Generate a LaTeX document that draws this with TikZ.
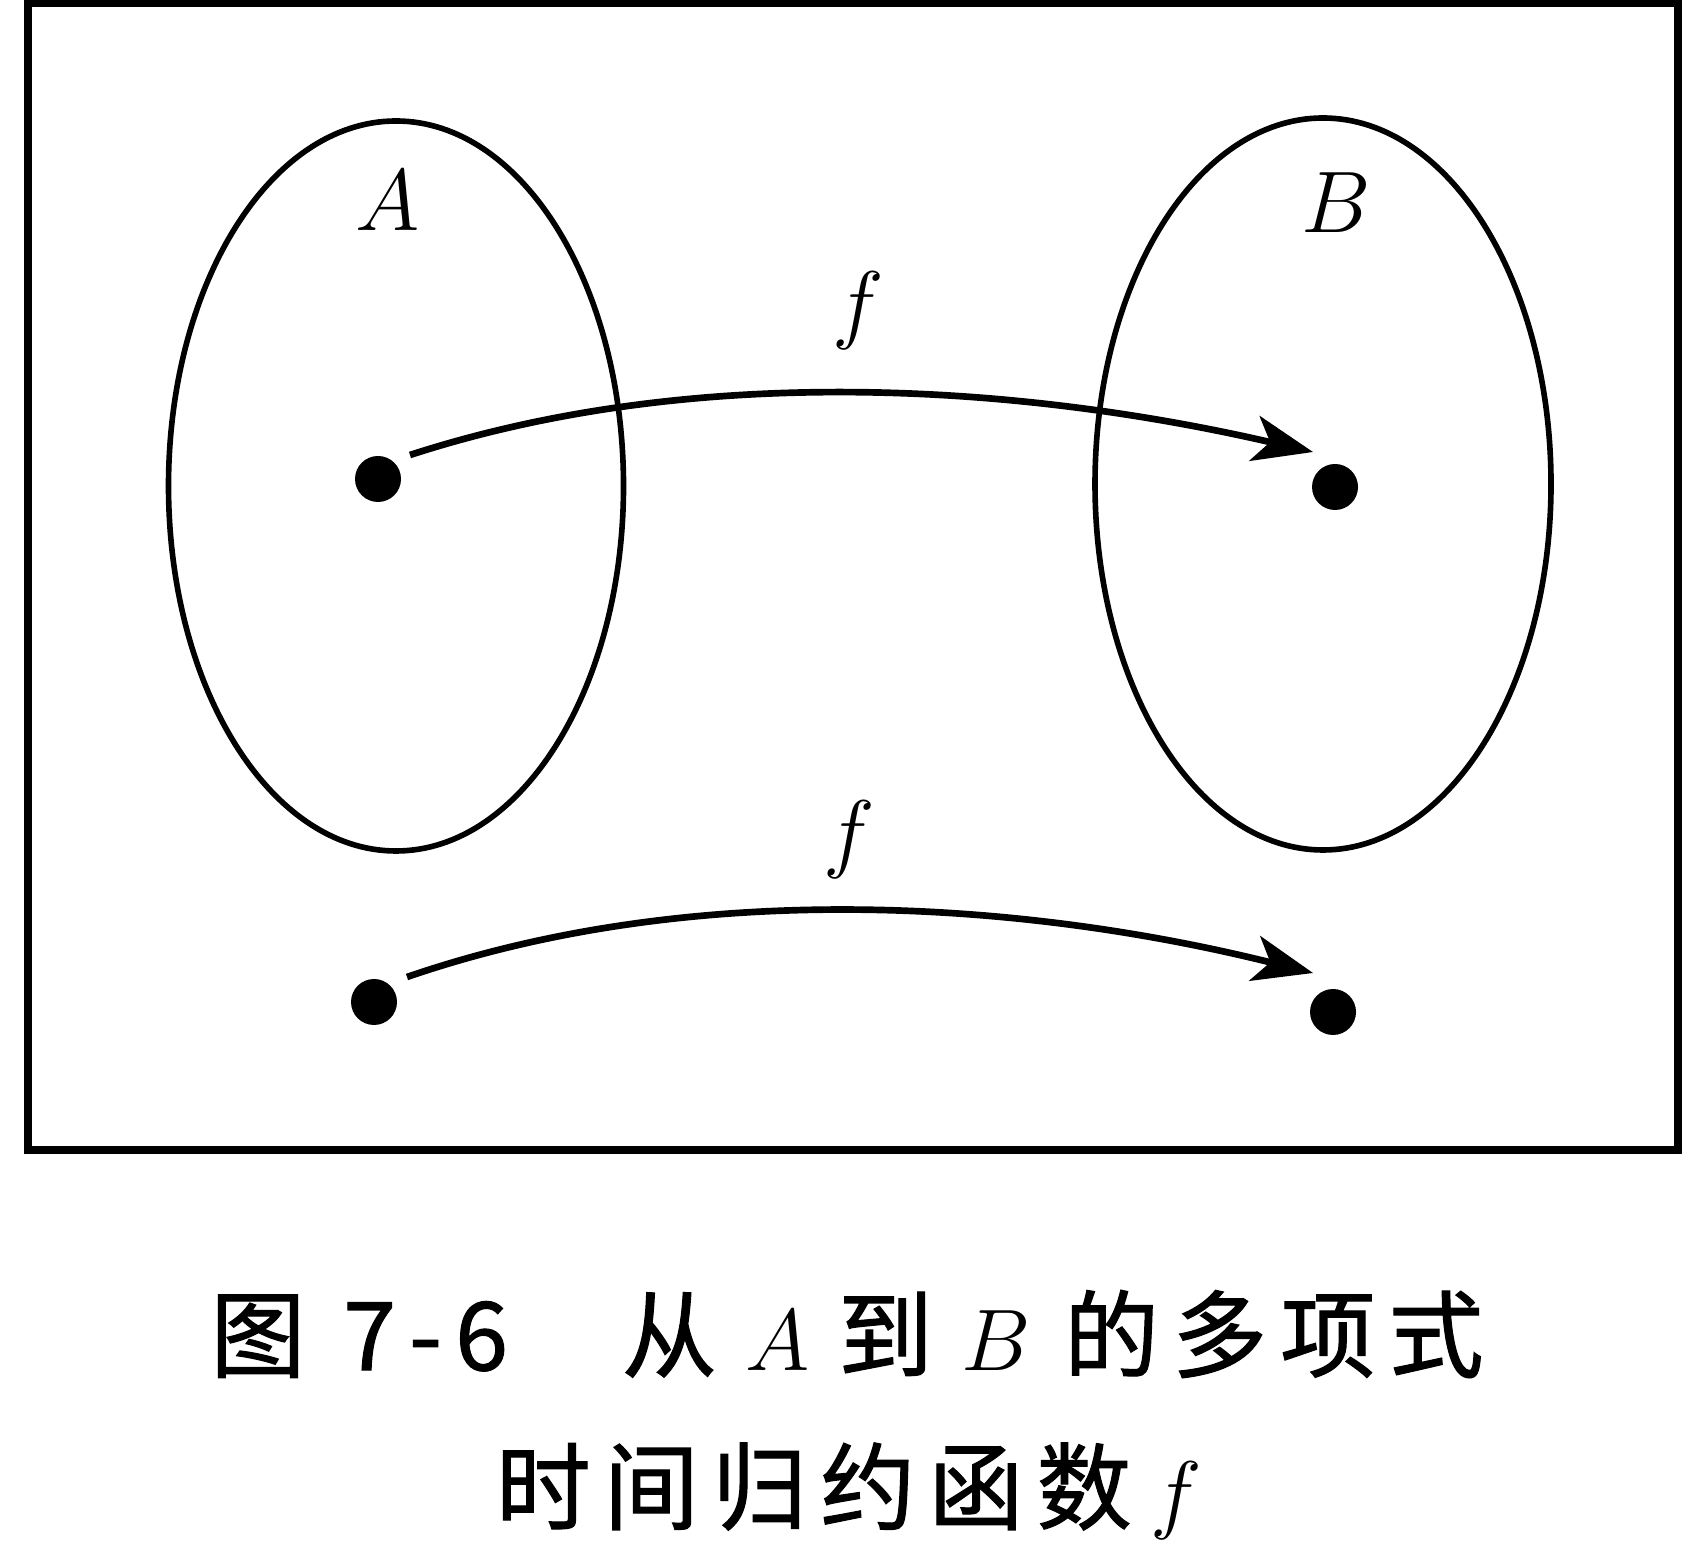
\documentclass[tikz,border=0pt]{standalone}
\usepackage{fontspec}
\newfontfamily\cjk[LetterSpace=14,FakeBold=1.2]{Noto Sans CJK SC}
\usetikzlibrary{arrows.meta}
\begin{document}
\begin{tikzpicture}[line width=1.6pt, >={Stealth[length=6mm,width=4.6mm,inset=1.6mm]},
    dot/.style={circle, fill, inner sep=0pt, minimum size=4.6mm},
    lab/.style={font=\fontsize{26}{30}\selectfont, inner sep=0pt},
    captext/.style={font=\fontsize{27}{31}\selectfont\cjk, inner sep=0pt}]
\useasboundingbox (0,0) rectangle (17.07,15.56);
\draw[line width=2.2pt] (0.28,4.06) rectangle (16.78,15.53);
% the two sets
\draw (3.96,10.70) ellipse [x radius=2.275, y radius=3.65];
\draw (13.23,10.72) ellipse [x radius=2.28, y radius=3.66];
\node[lab] (nameA) at (3.88,13.55) {$A$};
\node[lab] (nameB) at (13.36,13.53) {$B$};
% points
\node[dot] (a1) at (3.78,10.77) {};
\node[dot] (b1) at (13.35,10.69) {};
\node[dot] (a2) at (3.74,5.54) {};
\node[dot] (b2) at (13.33,5.44) {};
\draw[->, line width=1.9pt] ([shift={(0.32,0.24)}]a1.center) to[out=18, in=167, looseness=0.85]
    ([shift={(-0.22,0.35)}]b1.center);
\draw[->, line width=1.9pt] ([shift={(0.33,0.25)}]a2.center) to[out=19, in=166, looseness=0.85]
    ([shift={(-0.20,0.39)}]b2.center);
\node[lab] (f1) at (8.58,12.45) {$f$};
\node[lab] (f2) at (8.49,7.16) {$f$};
% caption
\node[captext] (cap1) at (8.47,2.22) {图\hspace{0.4em}7-6\hspace{1.2em}从\hspace{0.3em}$A$\hspace{0.3em}到\hspace{0.3em}$B$\hspace{0.35em}的多项式};
\node[captext] (cap2) at (8.49,0.65) {时间归约函数\hspace{0.2em}$f$};
\end{tikzpicture}
\end{document}
